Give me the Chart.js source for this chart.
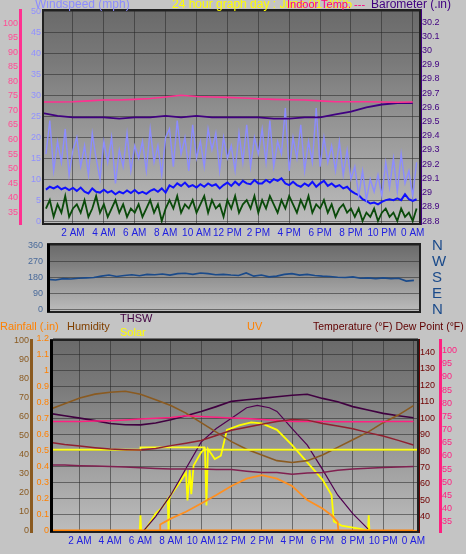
<!DOCTYPE html>
<html><head><meta charset="utf-8">
<script src="https://cdn.jsdelivr.net/npm/chart.js@4"></script>
<style>
body{margin:0;background:#c4c4c4;width:466px;height:554px;overflow:hidden;position:relative;font-family:"Liberation Sans",Arial,sans-serif}
.w{position:absolute;left:0}
.t{position:absolute;white-space:nowrap;font-size:11px;line-height:12px}
</style></head><body>
<div class="w" style="top:0px"><canvas id="c1" width="466" height="246"></canvas></div>
<div class="w" style="top:238px"><canvas id="c2" width="466" height="82"></canvas></div>
<div class="w" style="top:320px"><canvas id="c3" width="466" height="234"></canvas></div>
<div class="t" style="left:35px;top:-2px;color:#8c8cff;font-size:12px">Windspeed (mph)</div>
<div class="t" style="left:172px;top:-2px;color:#ffff00;font-size:12px">24 hour graph day : June 01 2025</div>
<div class="t" style="left:287px;top:-2px;color:#ff0080">Indoor Temp. ---</div>
<div class="t" style="left:371px;top:-2px;color:#400080;font-size:12px">Barometer (.in)</div>
<div class="t" style="left:0px;top:320px;color:#ff8000">Rainfall (.in)</div>
<div class="t" style="left:67px;top:320px;color:#804000">Humidity</div>
<div class="t" style="left:120px;top:312px;color:#400040">THSW</div>
<div class="t" style="left:120px;top:326px;color:#ffff00">Solar</div>
<div class="t" style="left:247px;top:320px;color:#ff8000">UV</div>
<div class="t" style="left:313px;top:320px;color:#600000;font-size:10.5px">Temperature (°F) Dew Point (°F)</div>
<script>
// ---------- data ----------
const xTickHours=[2,4,6,8,10,12,14,16,18,20,22,24];
const xTickLabels=['2 AM','4 AM','6 AM','8 AM','10 AM','12 PM','2 PM','4 PM','6 PM','8 PM','10 PM','0 AM'];
const hourly=[0,1,2,3,4,5,6,7,8,9,10,11,12,13,14,15,16,17,18,19,20,21,22,23,24];
const windHours=Array.from({length:97},(_,i)=>0.25+i*0.25);
const windGust=[16,24,12,19,14,22,11,17, 20,13,18,11,21,15,10,19, 14,20,9,17,13,21,12,18, 15,19,12,22,14,18,11,20, 22,13,24,16,20,12,23,15, 19,13,22,17,21,12,20,15, 18,12,21,14,23,13,20,16, 22,14,24,13,19,16,27,12, 20,15,23,12,19,14,27,13, 20,14,18,12,19,11,17,10, 13,6,12,5,10,7,11,6, 14,8,15,7,16,9,12,6,14];
const windAvg=[7.5,8.2,7.8,8.3,7.6,8.0,7.4,7.9, 7.2,8.0,7.0,6.6,7.8,7.0,6.8,7.5, 6.8,7.2,6.4,7.0,6.6,7.3,6.7,7.4, 6.6,7.0,6.5,7.2,7.6,7.0,7.8,6.8, 8.5,8.0,9.0,8.4,9.2,8.2,8.6,8.0, 8.8,8.2,9.0,8.4,8.8,7.8,8.6,9.2, 8.4,9.4,8.6,9.6,9.0,8.8,9.8,9.0, 9.0,9.8,9.2,10.0,9.6,10.2,9.0,8.6, 9.4,8.6,8.2,9.0,8.4,9.4,8.2,9.0, 9.6,8.4,9.0,8.2,8.6,7.8,8.2,7.2, 6.6,6.2,5.2,4.8,4.2,4.4,4.0,4.6, 5.0,5.2,5.0,5.4,5.0,6.4,5.2,4.8,5.2];
const windSpeed=[3,5,1,4,2,6,1,3, 4,2,5,1,3,6,2,4, 1,3,5,2,4,1,3,2, 4,1,3,5,2,4,0,3, 5,3,6,2,4,3,5,2, 4,6,2,5,3,4,1,5, 3,6,2,4,5,3,6,2, 5,3,6,4,2,5,3,6, 4,2,5,3,6,2,4,3, 5,2,4,1,3,4,2,3, 1,3,0,2,1,3,0,2, 3,1,2,0,3,1,2,0,3];
const indoorTemp=[72.9,72.9,73.0,73.3,73.6,73.6,73.8,74.1,74.6,75.2,74.8,74.6,74.5,74.3,74.0,73.8,73.7,73.6,73.3,73.0,73.0,73.0,72.9,72.8,72.9];
const barometer=[29.56,29.54,29.53,29.53,29.53,29.52,29.53,29.53,29.54,29.53,29.54,29.53,29.53,29.53,29.53,29.52,29.52,29.53,29.53,29.55,29.57,29.60,29.62,29.63,29.63];
const pinkTicks=[35,40,45,50,55,60,65,70,75,80,85,90,95,100];
const windTicks=[0,5,10,15,20,25,30,35,40,45,50];
const baroTicks=[28.8,28.9,29,29.1,29.2,29.3,29.4,29.5,29.6,29.7,29.8,29.9,30,30.1,30.2];

const dirHours=Array.from({length:49},(_,i)=>i*0.5);
const windDir=[172,168,176,174,178,180,182,190,196,188, 194,198,192,200,198,202,196,204,206,200, 208,204,198,200,196,194,208,190,196,186, 190,200,204,196,200,194,190,188,184,182, 186,178,180,176,180,176,178,162,166];
const dirTicks=[0,90,180,270,360];
const compassLabels=['N','E','S','W','N'];

const humidity=[64,67,70,72,73,73.5,72,69,66,62,57,52,47,43,40,37,36,37,40,44,48,52,57,61,66];
const thsw=[102.9,101.5,100,98.5,96.7,96,95.9,97,99,101.5,104,107,110.2,111.2,112,113,113.9,114.5,112,110,107,105,102.9,101.5,100.2];
const dewPink=[73.1,73.1,73.1,73.2,73.3,73.6,74.0,74.3,74.6,75.2,75.0,74.7,74.4,74.2,73.8,73.5,73.1,73.1,73.1,73.0,73.0,73.0,73.1,73.1,73.1];
const temperature=[85.3,84.0,83.0,82.0,81.2,80.8,80.6,81.5,83.3,84.8,86.4,89.5,92.6,94.5,96.3,98,99.2,98.8,96.7,95.2,93.6,91.2,89.1,86.5,83.7];
const dewPoint=[56.5,56.5,56.3,56.2,56,55.8,55.5,55.2,55,55,55,54.8,54.8,54.2,53.7,53.7,53.0,53.5,53.7,54.5,55,55.3,55.6,55.8,56];
const rainfall=[0,0,0,0,0,0,0,0,0,0,0,0,0,0,0,0,0,0,0,0,0,0,0,0,0];
const flatHours=[0,6,6,10.2,10.2,24.4];
const flatLine=[80.8,80.8,82.2,82.2,80.8,80.8];
const solarHours=[0,5.95,6,6.05,6.3,7,7.5,7.8,7.85,7.9,8,8.5,9,9.1,9.25,9.35,9.5,10,10.25,10.35,10.45,10.9,11.3,11.7,12.5,13.3,14,15,16,17,18,18.6,18.75,19.25,20.5,21,21.05,21.1,24.4];
const solar=[0,0,98,0,5,108,153,200,0,200,225,290,364,191,380,230,408,491,512,160,512,449,470,632,660,678,672,632,536,428,321,225,60,34,13,2,98,0,0];
const arcHours=[6.2,7,8,9,10,11,12,13,13.7,14.5,15,16,17,18,19,20,21];
const solarArc=[0,90,225,390,555,640,704,770,785,770,747,640,536,385,225,108,13];
const uvHours=[0,7.3,7.3,8,9,10,11,12,13,14,15,16,17,18,18.6,19,19.05,24.4];
const uv=[0,0,0.4,0.77,1.2,1.72,2.25,2.81,3.27,3.49,3.27,2.81,1.93,1.4,0.98,0.57,0,0];
const humTicks=[0,10,20,30,40,50,60,70,80,90,100];
const rainTicks=[0,0.1,0.2,0.3,0.4,0.5,0.6,0.7,0.8,0.9,1,1.1,1.2];
const tempTicks=[40,50,60,70,80,90,100,110,120,130,140];
const dewTicks=[35,40,45,50,55,60,65,70,75,80,85,90,95,100];

// ---------- helpers ----------
const pts=(xs,ys)=>xs.map((x,i)=>({x,y:ys[i]}));
const fixTicks=arr=>s=>{s.ticks=arr.map(v=>({value:v}));};
const bg={id:'bg',beforeDraw(c){const a=c.chartArea,x=c.ctx;const g=x.createLinearGradient(0,a.top,0,a.bottom);
 g.addColorStop(0,'#6a6a6a');g.addColorStop(0.25,'#7a7a7a');g.addColorStop(0.5,'#929292');g.addColorStop(1,'#bdbdbd');
 x.save();x.fillStyle=g;x.fillRect(a.left,a.top,a.right-a.left,a.bottom-a.top);x.restore();},
 afterDraw(c){const a=c.chartArea,x=c.ctx;x.save();x.strokeStyle='#202020';x.lineWidth=2;x.strokeRect(a.left,a.top,a.right-a.left,a.bottom-a.top);
 if(c.options.plugins.leftBar){x.fillStyle='#000';x.fillRect(a.left-1,a.top,3,a.bottom-a.top);}x.restore();}};
const F=s=>({family:'"Liberation Sans",Arial,sans-serif',size:s});
function yAx(pos,min,max,ticks,color,width,weight,opt={}){return Object.assign({type:'linear',position:pos,min,max,weight,
 afterBuildTicks:fixTicks(ticks),afterFit:s=>{s.width=width;s.paddingTop=0;s.paddingBottom=0;},
 ticks:Object.assign({color,font:F(9),padding:2,autoSkip:false,callback:opt.cb||(v=>String(v))},opt.tk||{}),
 grid:{display:!!opt.grid,drawTicks:false,color:'rgba(40,40,40,0.55)',borderDash:[1,2]},
 border:{display:!!opt.border,color:opt.border||color,width:3}},opt.extra||{});}
function xAx(min,max,show){return {type:'linear',min,max,afterBuildTicks:fixTicks(xTickHours),afterFit:s=>{s.height=show?22:0;s.paddingLeft=0;s.paddingRight=0;},
 ticks:{display:show,color:'#2020e0',font:F(10),maxRotation:0,autoSkip:false,callback:v=>xTickLabels[xTickHours.indexOf(v)]},
 grid:{display:show,drawTicks:false,color:'rgba(40,40,40,0.55)',borderDash:[1,2]},border:{display:false}};}
const line=(data,color,axis,w=1.3,extra={})=>Object.assign({data,borderColor:color,borderWidth:w,pointRadius:0,yAxisID:axis,tension:0,fill:false},extra);
const base={responsive:false,animation:false,events:[],plugins:{legend:{display:false},tooltip:{enabled:false}}};

// ---------- chart 1 ----------
new Chart(document.getElementById('c1'),{type:'line',plugins:[bg],data:{datasets:[
 line(pts(hourly,indoorTemp),'#ff3090','yT',1.6),
 line(pts(hourly,barometer),'#400080','yB',1.8),
 line(pts(windHours,windGust),'#8c8cff','yW',1.4),
 line(pts(windHours,windSpeed),'#0a4a0a','yW',1.8),
 line(pts(windHours,windAvg),'#1010ff','yW',2)]},
 options:Object.assign({},base,{layout:{padding:{top:10,right:0,left:0,bottom:0}},scales:{
 x:xAx(0.06,24.47,true),
 yT:yAx('left',31,104.5,pinkTicks,'#ff4d94',20,2,{border:'#ff3090'}),
 yW:yAx('left',-0.7,50.4,windTicks,'#9090ff',23,1,{grid:true}),
 yB:yAx('right',28.779,30.285,baroTicks,'#400080',46,1,{border:'#400080',cb:v=>String(+v.toFixed(1))})}})});

// ---------- chart 2 ----------
new Chart(document.getElementById('c2'),{type:'line',plugins:[bg],data:{datasets:[
 line(pts(dirHours,windDir),'#1a4a8a','yD',1.6)]},
 options:Object.assign({},base,{plugins:Object.assign({},base.plugins,{leftBar:true}),layout:{padding:{top:6,bottom:8}},scales:{
 x:xAx(0,24.4,false),
 yD:yAx('left',-12,371,dirTicks,'#4a6a9a',48,1,{grid:true,tk:{padding:5}}),
 yC:yAx('right',-12,371,dirTicks,'#1a4a8a',46,1,{tk:{font:F(15),padding:12,callback:v=>compassLabels[dirTicks.indexOf(v)]}})}})});

// ---------- chart 3 ----------
new Chart(document.getElementById('c3'),{type:'line',plugins:[bg],data:{datasets:[
 line(pts(hourly,rainfall),'#ff8000','yR',3),
 line(pts(hourly,dewPoint),'#802050','yDp',1.5),
 line(pts(hourly,temperature),'#902030','yTp',1.5),
 line(pts(hourly,dewPink),'#ff2080','yDp',1.5),
 line(pts(flatHours,flatLine),'#ffff20','yTp',1.8),
 line(pts(hourly,humidity),'#8a5a20','yH',1.6),
 line(pts(hourly,thsw),'#400040','yTp',1.6),
 line(pts(uvHours,uv),'#ff9020','yU',1.8),
 line(pts(arcHours,solarArc),'#500050','yS',1.2),
 line(pts(solarHours,solar),'#ffff00','yS',1.8)]},
 options:Object.assign({},base,{plugins:Object.assign({},base.plugins,{leftBar:true}),layout:{padding:{top:20,bottom:0}},scales:{
 x:xAx(0.1,24.3,true),
 yH:yAx('left',-0.54,100.5,humTicks,'#8a5a20',31,2,{border:'#8a5a20'}),
 yR:yAx('left',-0.0064,1.193,rainTicks,'#ff8000',20,1,{grid:true,border:'#ff8000',cb:v=>String(+v.toFixed(1))}),
 yU:yAx('left',-0.064,11.93,[],'#000',0,0,{extra:{display:false}}),
 yS:yAx('left',-6.4,1193,[],'#000',0,0,{extra:{display:false}}),
 yTp:yAx('right',30.8,147.5,tempTicks,'#700000',22,1,{border:'#700000'}),
 yDp:yAx('right',31.1,104,dewTicks,'#ff2080',26,2,{border:'#ff2080'})}})});
</script></body></html>
